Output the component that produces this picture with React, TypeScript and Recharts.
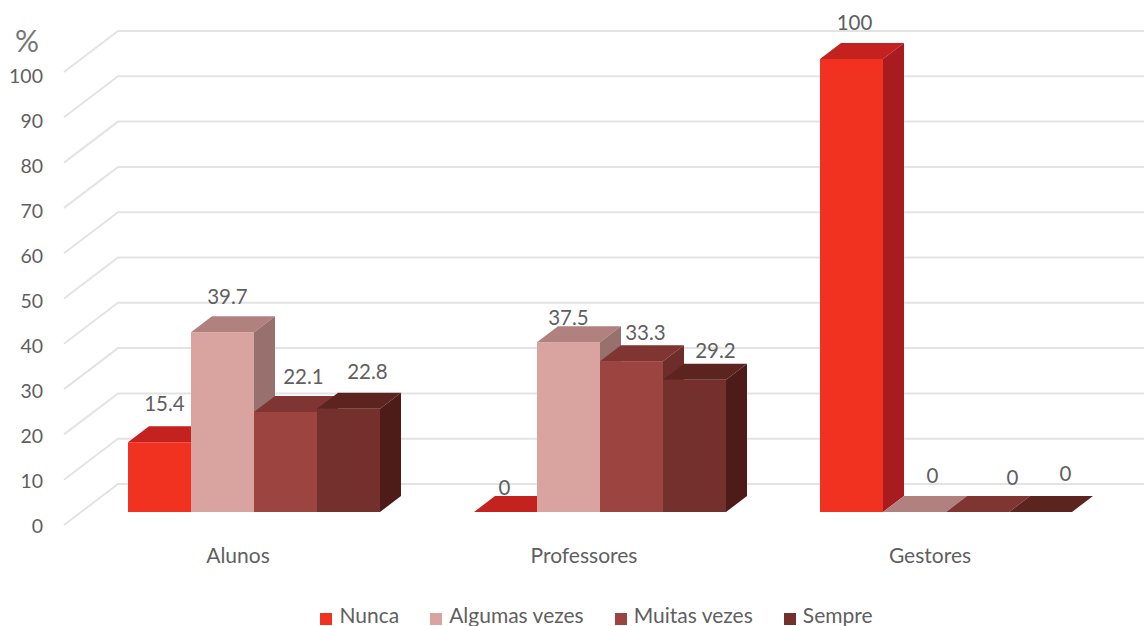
import { BarChart, Bar, XAxis, YAxis, CartesianGrid, Legend, LabelList } from "recharts";

const categories = ["Alunos", "Professores", "Gestores"];
const nunca = [15.4, 0, 100];
const algumas = [39.7, 37.5, 0];
const muitas = [22.1, 33.3, 0];
const sempre = [22.8, 29.2, 0];
const yTicks = [0, 10, 20, 30, 40, 50, 60, 70, 80, 90, 100];

const data = categories.map((name, i) => ({
  name,
  nunca: nunca[i],
  algumas: algumas[i],
  muitas: muitas[i],
  sempre: sempre[i],
}));

const FONT = "Lato, sans-serif";
const TEXT = "#5f5f5f";
const DX = 21;
const DY = 16;

// the value labels sit by hand in the original, so each gets its own nudge
const nudges = {
  nunca: [[5, -38], [-1, -24], [3, -36]],
  algumas: [[5, -35], [0, -24], [18, -36]],
  muitas: [[18, -35], [14, -28], [35, -34]],
  sempre: [[19, -37], [21, -29], [25, -38]],
};

function Bar3D(props: any) {
  const { x, y, width, height, fill, top, side } = props;
  const x2 = x + width;
  const y2 = y + height;
  return (
    <g>
      <polygon points={`${x},${y} ${x2},${y} ${x2 + DX},${y - DY} ${x + DX},${y - DY}`} fill={top} />
      {height > 0 && (
        <>
          <polygon points={`${x2},${y} ${x2 + DX},${y - DY} ${x2 + DX},${y2 - DY} ${x2},${y2}`} fill={side} />
          <rect x={x} y={y} width={width} height={height} fill={fill} />
        </>
      )}
    </g>
  );
}

function GridLine(props: any) {
  const { x1, y1, key } = props;
  const front = x1 - 17;
  return (
    <polyline
      key={key}
      points={`${front},${y1 + 13} ${front + 54},${y1 - 28} 1144,${y1 - 28}`}
      fill="none"
      stroke="#e3e3e3"
      strokeWidth={2}
    />
  );
}

function YTick(props: any) {
  const { y, payload } = props;
  return (
    <text x={43} y={y + 21 + (513 - y) * 0.0066} textAnchor="end" fontFamily={FONT} fontSize={19.5} fill={TEXT}>
      {payload.value}
    </text>
  );
}

function XTick(props: any) {
  const { x, payload } = props;
  return (
    <text x={x - 16} y={563} textAnchor="middle" fontFamily={FONT} fontSize={21} fill={TEXT}>
      {payload.value}
    </text>
  );
}

function valueLabel(series: keyof typeof nudges) {
  return (props: any) => {
    const { x, y, width, value, index } = props;
    const [dx, dy] = nudges[series][index];
    return (
      <text x={x + width / 2 + dx} y={y + dy + 7} textAnchor="middle" fontFamily={FONT} fontSize={20.5} fill={TEXT}>
        {value}
      </text>
    );
  };
}

const legendText = (value: string) => (
  <span style={{ color: TEXT, fontFamily: FONT, fontSize: 21, marginLeft: 3, marginRight: 21 }}>{value}</span>
);

export default function App() {
  return (
    <div style={{ position: "absolute", left: 0, top: 0, width: 1144, height: 626, background: "#fff", overflow: "hidden" }}>
      <BarChart
        width={1144}
        height={626}
        data={data}
        barSize={63}
        barGap={0}
        margin={{ top: 59, right: 25, bottom: 88, left: 0 }}
      >
        <CartesianGrid vertical={false} horizontal={GridLine} syncWithTicks />
        <XAxis dataKey="name" height={1} axisLine={false} tickLine={false} tick={XTick} />
        <YAxis
          width={81}
          domain={[0, 100]}
          ticks={yTicks}
          interval={0}
          axisLine={false}
          tickLine={false}
          tick={YTick}
        />
        <Legend
          iconType="square"
          iconSize={12}
          itemSorter={null}
          formatter={legendText}
          wrapperStyle={{ top: 602, left: 40, width: 1144 }}
        />
        <Bar dataKey="nunca" name="Nunca" fill="#f13220" isAnimationActive={false}
          shape={(p: any) => <Bar3D {...p} top="#c3221e" side="#a81b1e" />}>
          <LabelList dataKey="nunca" content={valueLabel("nunca")} />
        </Bar>
        <Bar dataKey="algumas" name="Algumas vezes" fill="#d9a3a0" isAnimationActive={false}
          shape={(p: any) => <Bar3D {...p} top="#b0817e" side="#98706d" />}>
          <LabelList dataKey="algumas" content={valueLabel("algumas")} />
        </Bar>
        <Bar dataKey="muitas" name="Muitas vezes" fill="#9c4540" isAnimationActive={false}
          shape={(p: any) => <Bar3D {...p} top="#7f3531" side="#6e2d2a" />}>
          <LabelList dataKey="muitas" content={valueLabel("muitas")} />
        </Bar>
        <Bar dataKey="sempre" name="Sempre" fill="#73302c" isAnimationActive={false}
          shape={(p: any) => <Bar3D {...p} top="#5c241f" side="#4e1c18" />}>
          <LabelList dataKey="sempre" content={valueLabel("sempre")} />
        </Bar>
        <text x={27} y={52} textAnchor="middle" fontFamily={FONT} fontSize={30} fill="#777">%</text>
      </BarChart>
    </div>
  );
}
